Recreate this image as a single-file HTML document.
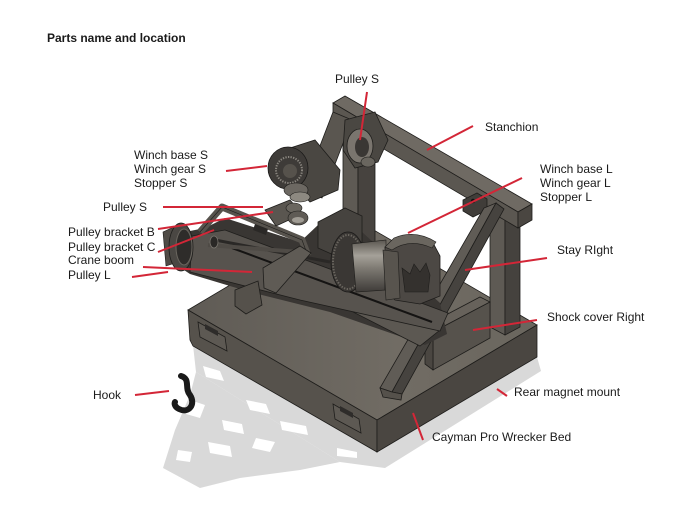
<!DOCTYPE html>
<html>
<head>
<meta charset="utf-8">
<style>
  html,body{margin:0;padding:0;background:#fff;}
  svg{display:block;}
  text{font-family:"Liberation Sans",Arial,sans-serif;font-size:12px;fill:#1a1a1a;}
</style>
</head>
<body>
<svg width="700" height="525" viewBox="0 0 700 525" xmlns="http://www.w3.org/2000/svg">
  <defs>
    <linearGradient id="gTop" x1="0" y1="0" x2="1" y2="0">
      <stop offset="0" stop-color="#5f5b55"/>
      <stop offset="0.6" stop-color="#716c64"/>
      <stop offset="1" stop-color="#6a665e"/>
    </linearGradient>
    <linearGradient id="gDrum" x1="0" y1="0" x2="0" y2="1">
      <stop offset="0" stop-color="#5a5650"/>
      <stop offset="0.3" stop-color="#a5a199"/>
      <stop offset="0.55" stop-color="#7d7972"/>
      <stop offset="1" stop-color="#3e3b38"/>
    </linearGradient>
  </defs>

  <!-- Shadow -->
  <g fill="#d9d9d9">
    <path d="M193,345 L377,452 L537,357 L541,371 L385,468 L340,462 L196,372 Z"/>
    <path d="M196,372 L340,462 L300,470 L240,478 L200,488 L163,468 L175,430 L190,395 Z"/>
  </g>
  <g fill="#fff">
    <path d="M203,366 L220,371 L224,381 L206,377 Z"/>
    <path d="M246,400 L266,404 L270,414 L250,410 Z"/>
    <path d="M280,421 L306,426 L308,435 L282,430 Z"/>
    <path d="M222,420 L242,424 L244,434 L224,430 Z"/>
    <path d="M208,442 L230,446 L232,457 L210,453 Z"/>
    <path d="M178,450 L192,452 L190,462 L176,460 Z"/>
    <path d="M256,438 L275,442 L270,452 L252,448 Z"/>
    <path d="M337,448 L357,452 L357,458 L337,456 Z"/>
    <path d="M190,400 L205,405 L200,418 L186,414 Z"/>
  </g>

  <!-- Base -->
  <path d="M188,310 L348,215 L537,325 L377,420 Z" fill="url(#gTop)" stroke="#1e1d1b" stroke-width="0.8"/>
  <path d="M188,310 L377,420 L377,452 L193,346 L190,340 Z" fill="#56524c" stroke="#1e1d1b" stroke-width="0.8"/>
  <path d="M377,420 L537,325 L537,357 L377,452 Z" fill="#4a4641" stroke="#1e1d1b" stroke-width="0.8"/>
  <!-- tabs -->
  <path d="M198,322 L225,337 L227,351 L200,337 Z" fill="#5d5953" stroke="#1e1d1b" stroke-width="0.8"/>
  <path d="M205,324 L218,331 L218,336 L205,329 Z" fill="#2e2c2a"/>
  <path d="M333,404 L359,419 L361,433 L335,419 Z" fill="#5d5953" stroke="#1e1d1b" stroke-width="0.8"/>
  <path d="M340,406 L353,413 L353,418 L340,411 Z" fill="#2e2c2a"/>

  <!-- Right post -->
  <path d="M490,212 L505,220 L505,335 L490,327 Z" fill="#5e5a54" stroke="#1e1d1b" stroke-width="0.8"/>
  <path d="M505,220 L520,212 L520,327 L505,335 Z" fill="#45423e" stroke="#1e1d1b" stroke-width="0.8"/>

  <!-- Shock cover -->
  <path d="M425,326 L480,297 L490,302 L433,332 Z" fill="#67625b" stroke="#1e1d1b" stroke-width="0.8"/>
  <path d="M433,332 L490,302 L490,338 L433,370 Z" fill="#56524c" stroke="#1e1d1b" stroke-width="0.8"/>
  <path d="M425,326 L433,332 L433,370 L425,364 Z" fill="#4a4641" stroke="#1e1d1b" stroke-width="0.8"/>

  <!-- Left post -->
  <path d="M343,119 L358,127 L358,300 L343,292 Z" fill="#5e5a54" stroke="#1e1d1b" stroke-width="0.8"/>
  <path d="M358,127 L375,118 L375,295 L358,300 Z" fill="#47433f" stroke="#1e1d1b" stroke-width="0.8"/>

  <!-- Stanchion bar -->
  <path d="M333,103 L345,96 L532,204 L518,212 Z" fill="#6f6a63" stroke="#1e1d1b" stroke-width="0.8"/>
  <path d="M333,103 L518,212 L518,228 L333,119 Z" fill="#5b5751" stroke="#1e1d1b" stroke-width="0.8"/>
  <path d="M518,212 L532,204 L532,220 L518,228 Z" fill="#4a4641" stroke="#1e1d1b" stroke-width="0.8"/>
  <!-- block on bar -->
  <path d="M463,200 L477,193 L487,199 L487,210 L473,217 L463,211 Z" fill="#403d39" stroke="#1e1d1b" stroke-width="0.8"/>
  <circle cx="473" cy="201" r="2.2" fill="#111"/>

  <!-- Stay -->
  <path d="M484,208 L496,203 L392,392 L380,388 Z" fill="#605c56" stroke="#1e1d1b" stroke-width="0.8"/>
  <path d="M496,203 L504,209 L402,394 L392,392 Z" fill="#46433f" stroke="#1e1d1b" stroke-width="0.8"/>
  <path d="M380,388 L392,392 L402,394 L401,400 L383,397 Z" fill="#55514b" stroke="#1e1d1b" stroke-width="0.8"/>

  <!-- Arm / boom mass -->
  <path d="M175,234 L205,228 L225,218 L300,242 L318,225 L345,210 L362,232 L440,303 L447,334 L425,345 L330,312 L250,292 L190,274 L172,262 Z" fill="#393633"/>
  <!-- plate under boom -->
  <path d="M300,285 L330,280 L440,330 L420,346 Z" fill="#5c5852" stroke="#1e1d1b" stroke-width="0.8"/>
  <!-- box behind -->
  <path d="M318,222 L345,208 L362,216 L362,242 L336,256 L318,248 Z" fill="#46433f" stroke="#1e1d1b" stroke-width="0.8"/>
  <!-- boom face -->
  <path d="M192,236 L225,230 L448,313 L440,331 L300,300 L190,272 Z" fill="#57534e" stroke="#1e1d1b" stroke-width="0.8"/>
  <path d="M232,248 L432,322" stroke="#151413" stroke-width="2"/>
  <path d="M215,240 L330,262" stroke="#2a2826" stroke-width="3"/>

  <!-- Winch L -->
  <ellipse cx="348" cy="262" rx="17" ry="30" fill="#3a3734" stroke="#1a1918" stroke-width="0.8"/>
  <ellipse cx="348" cy="262" rx="15" ry="27" fill="none" stroke="#6a665f" stroke-width="2" stroke-dasharray="1.4 1.4"/>
  <path d="M352,244 L386,240 L386,290 L356,292 Z" fill="url(#gDrum)" stroke="#1e1d1b" stroke-width="0.6"/>
  <path d="M385,247 Q 405,232 432,241 L440,256 L440,296 L420,304 L395,300 L385,290 Z" fill="#4c4844" stroke="#1e1d1b" stroke-width="0.8"/>
  <path d="M385,247 L394,238 Q 415,229 436,242 L432,248 Q 410,238 392,250 Z" fill="#6a665f" stroke="#1e1d1b" stroke-width="0.6"/>
  <path d="M402,268 L410,274 L414,264 L420,272 L426,263 L430,275 L428,292 L405,292 Z" fill="#34312e" stroke="#1e1d1b" stroke-width="0.6"/>
  <path d="M383,250 L398,252 L400,298 L386,300 Z" fill="#58544e" stroke="#1e1d1b" stroke-width="0.6"/>

  <!-- Pulley bracket frames -->
  <path d="M200,232 L222,207 L302,240 L308,256" fill="none" stroke="#57534d" stroke-width="7" stroke-linejoin="round"/>
  <path d="M200,232 L222,207 L302,240 L308,256" fill="none" stroke="#1e1d1b" stroke-width="0.6"/>
  <path d="M208,245 L300,252" stroke="#4f4b46" stroke-width="4"/>
  <path d="M263,268 L300,246 L311,253 L276,293 L264,288 Z" fill="#5f5b55" stroke="#1e1d1b" stroke-width="0.8"/>
  <path d="M235,290 L258,281 L262,305 L246,314 L235,306 Z" fill="#55514b" stroke="#1e1d1b" stroke-width="0.8"/>
  <path d="M255,224 L268,229 L266,235 L253,230 Z" fill="#2a2826"/>

  <!-- Pulley L -->
  <path d="M163,232 L176,226 L178,262 L166,266 Z" fill="#4f4b46" stroke="#1e1d1b" stroke-width="0.6"/>
  <ellipse cx="181" cy="247" rx="12" ry="24" fill="#4a4743" stroke="#1e1d1b" stroke-width="0.8"/>
  <ellipse cx="184" cy="247" rx="8" ry="18" fill="#2e2c2a" stroke="#6a665f" stroke-width="1"/>
  <ellipse cx="214" cy="242" rx="4" ry="6" fill="#2a2826" stroke="#7a766f" stroke-width="0.8"/>

  <!-- Winch S cluster -->
  <path d="M333,112 L352,120 L322,198 L303,190 Z" fill="#5a5650" stroke="#1e1d1b" stroke-width="0.8"/>
  <path d="M290,148 L315,140 L340,170 L338,190 L310,202 L295,186 Z" fill="#4a4742" stroke="#1e1d1b" stroke-width="0.8"/>
  <ellipse cx="288" cy="168" rx="20" ry="21" fill="#3e3b38" stroke="#1a1918" stroke-width="0.8"/>
  <ellipse cx="289" cy="170" rx="13" ry="13" fill="none" stroke="#8a867f" stroke-width="2" stroke-dasharray="1.3 1.3"/>
  <ellipse cx="290" cy="171" rx="7" ry="7" fill="#56524c"/>
  <ellipse cx="296" cy="190" rx="12" ry="7" fill="#6c6862" stroke="#1e1d1b" stroke-width="0.6"/>
  <ellipse cx="300" cy="197" rx="10" ry="5" fill="#8d8981" stroke="#1e1d1b" stroke-width="0.6"/>
  <!-- Pulley S left -->
  <path d="M265,210 L290,200 L302,214 L276,226 Z" fill="#5a5650" stroke="#1e1d1b" stroke-width="0.8"/>
  <ellipse cx="294" cy="208" rx="8" ry="5" fill="#6a665f" stroke="#1e1d1b" stroke-width="0.6"/>
  <ellipse cx="298" cy="218" rx="10" ry="7" fill="#5f5b55" stroke="#1e1d1b" stroke-width="0.6"/>
  <ellipse cx="298" cy="220" rx="6" ry="3" fill="#a09c94"/>

  <!-- Pulley S top -->
  <path d="M345,120 L375,112 L388,140 L378,162 L355,168 L343,150 Z" fill="#4a4742" stroke="#1e1d1b" stroke-width="0.8"/>
  <ellipse cx="360" cy="146" rx="13" ry="17" fill="#7a756e" stroke="#1e1d1b" stroke-width="0.8"/>
  <ellipse cx="362" cy="147" rx="7" ry="10" fill="#3a3734"/>
  <ellipse cx="368" cy="162" rx="7" ry="5" fill="#6a665f" stroke="#1e1d1b" stroke-width="0.6"/>

  <!-- Hook -->
  <path d="M181,376 C 191,379 184,388 190,395 C 196,404 189,414 179,409 C 175,407 174,404 175,402" fill="none" stroke="#1a1a1a" stroke-width="6" stroke-linecap="round"/>

  <!-- Leader lines -->
  <g stroke="#d32637" stroke-width="2" fill="none" stroke-linecap="butt">
    <line x1="367" y1="92" x2="360" y2="140"/>
    <line x1="473" y1="126" x2="427" y2="150"/>
    <line x1="522" y1="178" x2="408" y2="233"/>
    <line x1="226" y1="171" x2="267" y2="166"/>
    <line x1="163" y1="207" x2="263" y2="207"/>
    <line x1="158" y1="229" x2="273" y2="212"/>
    <line x1="158" y1="252" x2="214" y2="230"/>
    <line x1="143" y1="267" x2="252" y2="272"/>
    <line x1="132" y1="277" x2="168" y2="272"/>
    <line x1="547" y1="258" x2="465" y2="270"/>
    <line x1="537" y1="320" x2="473" y2="330"/>
    <line x1="507" y1="396" x2="497" y2="389"/>
    <line x1="423" y1="440" x2="413" y2="413"/>
    <line x1="135" y1="395" x2="169" y2="391"/>
  </g>

  <!-- Labels -->
  <text x="47" y="42" style="font-weight:bold">Parts name and location</text>
  <text x="335" y="83">Pulley S</text>
  <text x="485" y="131">Stanchion</text>
  <text x="540" y="173">Winch base L</text>
  <text x="540" y="187">Winch gear L</text>
  <text x="540" y="201">Stopper L</text>
  <text x="134" y="159">Winch base S</text>
  <text x="134" y="173">Winch gear S</text>
  <text x="134" y="187">Stopper S</text>
  <text x="103" y="211">Pulley S</text>
  <text x="68" y="236">Pulley bracket B</text>
  <text x="68" y="251">Pulley bracket C</text>
  <text x="68" y="264">Crane boom</text>
  <text x="68" y="279">Pulley L</text>
  <text x="557" y="254">Stay RIght</text>
  <text x="547" y="321">Shock cover Right</text>
  <text x="93" y="399">Hook</text>
  <text x="514" y="396">Rear magnet mount</text>
  <text x="432" y="441">Cayman Pro Wrecker Bed</text>
</svg>
</body>
</html>
